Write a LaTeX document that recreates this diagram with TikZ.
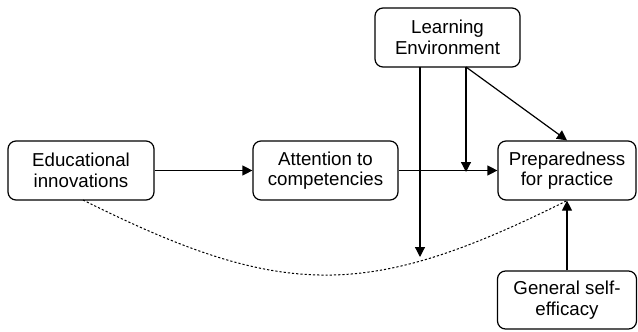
\documentclass[tikz,border=0pt]{standalone}
\usepackage{fontspec}
\setmainfont{Liberation Sans}
\usetikzlibrary{arrows.meta}
\begin{document}
\begin{tikzpicture}[x=1pt,y=-1pt,
  box/.style={draw,line width=1.2pt,rounded corners=8pt,align=center,inner sep=0pt,
    font=\fontsize{18.7}{20.5}\selectfont,minimum height=59pt},
  arr/.style={line width=1.2pt,-{Triangle[length=10pt,width=10pt]}},
  dsh/.style={line width=1pt,dash pattern=on 2.2pt off 2pt}]
\useasboundingbox (0,0) rectangle (638,332);
\node[box,minimum width=146pt] (edu) at (81,170.5) {Educational\\innovations};
\node[box,minimum width=145pt] (att) at (325.5,170.5) {Attention to\\competencies};
\node[box,minimum width=138pt] (prep) at (567,170.5) {Preparedness\\for practice};
\node[box,minimum width=145pt] (le) at (447.5,37.5) {Learning\\Environment};
\node[box,minimum width=139pt,minimum height=58pt] (gse) at (567,300) {General self-\\efficacy};
\coordinate (m1) at (420,257);
\coordinate (m2) at (466,172);
\coordinate (lb1) at (420,67);
\coordinate (lb2) at (466,67);
\draw[arr] (edu.east) -- (att.west);
\draw[arr] (att.east) -- (prep.west);
\draw[arr] (lb1) -- (m1);
\draw[arr] (lb2) -- (m2);
\draw[arr] (lb2) -- (prep.north);
\draw[arr] (gse.north) -- (prep.south);
\draw[dsh] (83,200) .. controls (283,300) and (368,300) .. (prep.south);
\end{tikzpicture}
\end{document}
